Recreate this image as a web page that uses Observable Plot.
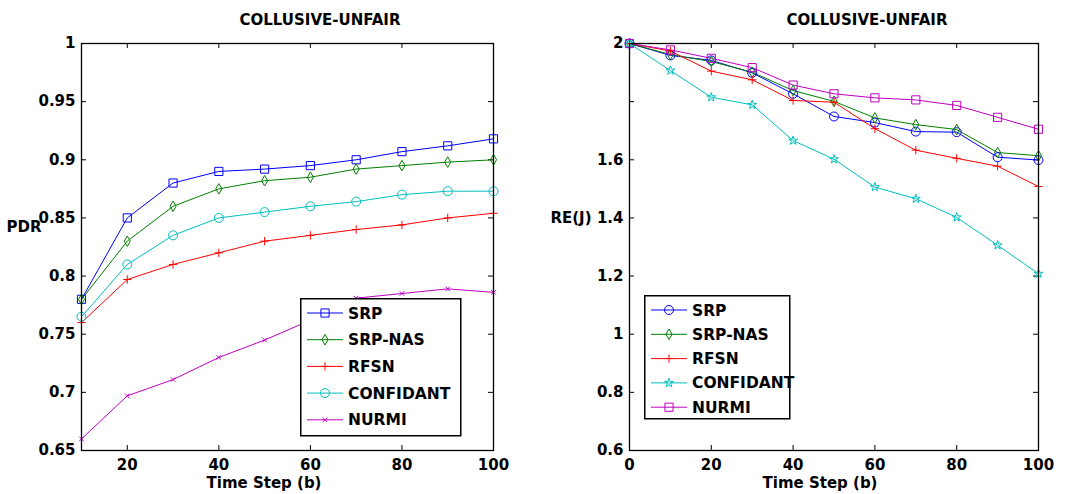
<!DOCTYPE html>
<html><head><meta charset="utf-8">
<script src="https://cdn.jsdelivr.net/npm/d3@7"></script>
<script src="https://cdn.jsdelivr.net/npm/@observablehq/plot@0.6"></script>
<style>
body{margin:0;background:#fff;}
#wrap{position:relative;width:1065px;height:494px;overflow:hidden;background:#fff;font-family:"DejaVu Sans",sans-serif;font-weight:bold;color:#000}
.panel{position:absolute;top:0}
.lbl{position:absolute;white-space:nowrap;font-size:15px;line-height:1;}
.ctr{transform:translate(-50%,-50%)}
.legend{position:absolute;overflow:visible}
</style></head><body><div id="wrap"></div>
<script>
// ---------- data ----------
const seriesNames = ["SRP", "SRP-NAS", "RFSN", "CONFIDANT", "NURMI"];
const seriesColors = ["#0000ff", "#008000", "#ff0000", "#00bfbf", "#bf00bf"];

// Left panel: PDR vs time step
const pdrSteps = [10, 20, 30, 40, 50, 60, 70, 80, 90, 100];
const pdrSRP       = [0.780, 0.850, 0.880, 0.890, 0.892, 0.895, 0.900, 0.907, 0.912, 0.918];
const pdrSRPNAS    = [0.780, 0.830, 0.860, 0.875, 0.882, 0.885, 0.892, 0.895, 0.898, 0.900];
const pdrRFSN      = [0.760, 0.797, 0.810, 0.820, 0.830, 0.835, 0.840, 0.844, 0.850, 0.854];
const pdrCONFIDANT = [0.765, 0.810, 0.835, 0.850, 0.855, 0.860, 0.864, 0.870, 0.873, 0.873];
const pdrNURMI     = [0.660, 0.697, 0.711, 0.730, 0.745, 0.762, 0.781, 0.785, 0.789, 0.786];
const pdrXTicks = [20, 40, 60, 80, 100];
const pdrYTicks = [0.65, 0.7, 0.75, 0.8, 0.85, 0.9, 0.95, 1];

// Right panel: RE(J) vs time step
const reSteps = [0, 10, 20, 30, 40, 50, 60, 70, 80, 90, 100];
const reSRP       = [2.000, 1.959, 1.942, 1.899, 1.827, 1.749, 1.728, 1.697, 1.695, 1.609, 1.599];
const reSRPNAS    = [2.000, 1.962, 1.938, 1.901, 1.838, 1.801, 1.744, 1.721, 1.704, 1.625, 1.614];
const reRFSN      = [2.000, 1.974, 1.905, 1.875, 1.804, 1.798, 1.707, 1.633, 1.605, 1.578, 1.508];
const reCONFIDANT = [2.000, 1.907, 1.815, 1.789, 1.666, 1.602, 1.506, 1.466, 1.402, 1.306, 1.208];
const reNURMI     = [2.000, 1.978, 1.949, 1.917, 1.857, 1.827, 1.813, 1.806, 1.787, 1.746, 1.705];
const reXTicks = [0, 20, 40, 60, 80, 100];
const reYTicks = [0.6, 0.8, 1, 1.2, 1.4, 1.6, 1.8, 2];
const reYTickLabels = ["0.6", "0.8", "1", "1.2", "1.4", "1.6", "", "2"];

const titleText = "COLLUSIVE-UNFAIR";
const xLabelText = "Time Step (b)";
const pdrLabelText = "PDR";
const reLabelText = "RE(J)";

const pdrSymbols = ["square", "diamond", "plus", "circle", "times"];
const pdrSizes = [4.6, 3.2, 2.8, 4.5, 2.2];
const reSymbols = ["circle", "diamond", "plus", "star", "square"];
const reSizes = [4.5, 3.2, 2.8, 2.8, 4.6];

// ---------- build ----------
function toRows(steps, arrays) {
  const rows = [];
  arrays.forEach((vals, i) => vals.forEach((v, j) => rows.push({series: seriesNames[i], step: steps[j], value: v})));
  return rows;
}
const pdrRows = toRows(pdrSteps, [pdrSRP, pdrSRPNAS, pdrRFSN, pdrCONFIDANT, pdrNURMI]);
const reRows = toRows(reSteps, [reSRP, reSRPNAS, reRFSN, reCONFIDANT, reNURMI]);

const font = {fontFamily: "DejaVu Sans", fontWeight: "bold", fontSize: "15px", background: "white", color: "black", overflow: "visible"};
const TICK = 5;
const HEIGHT = 494, MT = 43, MB = 44;

function panel({width, marginLeft, marginRight, xDomain, yDomain, xTicks, yTicks, yFmt, rows, symbols, sizes}) {
  const pw = width - marginLeft - marginRight;
  const ph = HEIGHT - MT - MB;
  const marks = [
    // inward tick marks on all four sides (MATLAB style)
    Plot.tickX(xTicks, {x: d => d, insetTop: ph - TICK, stroke: "black"}),
    Plot.tickX(xTicks, {x: d => d, insetBottom: ph - TICK, stroke: "black"}),
    Plot.tickY(yTicks, {y: d => d, insetRight: pw - TICK, stroke: "black"}),
    Plot.tickY(yTicks, {y: d => d, insetLeft: pw - TICK, stroke: "black"}),
    Plot.axisX({anchor: "bottom", ticks: xTicks, tickSize: 0, tickPadding: 9, label: null}),
    Plot.axisY({anchor: "left", ticks: yTicks, tickSize: 0, tickPadding: 6, tickFormat: yFmt, label: null}),
    Plot.line(rows, {x: "step", y: "value", z: "series", stroke: "series", strokeWidth: 1})
  ];
  seriesNames.forEach((s, i) => {
    marks.push(Plot.dot(rows.filter(d => d.series === s), {x: "step", y: "value", stroke: seriesColors[i], fill: "none", symbol: symbols[i], r: sizes[i], strokeWidth: 1}));
  });
  marks.push(Plot.frame({stroke: "black", strokeWidth: 1.3}));
  return Plot.plot({
    width, height: HEIGHT, marginLeft, marginRight, marginTop: MT, marginBottom: MB,
    style: font,
    x: {domain: xDomain},
    y: {domain: yDomain},
    color: {domain: seriesNames, range: seriesColors},
    marks
  });
}

const wrap = document.getElementById("wrap");

const left = panel({
  width: 530, marginLeft: 81, marginRight: 37,
  xDomain: [10, 100], yDomain: [0.65, 1], xTicks: pdrXTicks, yTicks: pdrYTicks,
  yFmt: d => String(+d.toFixed(2)), rows: pdrRows, symbols: pdrSymbols, sizes: pdrSizes
});
left.classList.add("panel"); left.style.left = "0px";
wrap.appendChild(left);

const right = panel({
  width: 535, marginLeft: 99, marginRight: 27,
  xDomain: [0, 100], yDomain: [0.6, 2], xTicks: reXTicks, yTicks: reYTicks,
  yFmt: d => reYTickLabels[reYTicks.findIndex(t => Math.abs(t - d) < 1e-9)], rows: reRows, symbols: reSymbols, sizes: reSizes
});
right.classList.add("panel"); right.style.left = "530px";
wrap.appendChild(right);

function addLabel(text, x, y, cls, extra) {
  const el = document.createElement("div");
  el.className = "lbl " + (cls || "");
  el.textContent = text;
  el.style.left = x + "px"; el.style.top = y + "px";
  if (extra) Object.assign(el.style, extra);
  wrap.appendChild(el);
  return el;
}
addLabel(titleText, 320, 20, "ctr");
addLabel(titleText, 867, 20, "ctr");
addLabel(xLabelText, 264, 483, "ctr");
addLabel(xLabelText, 820, 483, "ctr");
addLabel(pdrLabelText, 24, 227, "ctr");
addLabel(reLabelText, 571, 218, "ctr");

function legend(x, y, w, h, rowTop, rowGap, symbols, sizes) {
  const svg = d3.create("svg").attr("class", "legend").attr("width", w + 20).attr("height", h + 2)
    .style("left", x + "px").style("top", y + "px");
  svg.append("rect").attr("x", 0.75).attr("y", 0.75).attr("width", w).attr("height", h)
    .attr("fill", "white").attr("stroke", "black").attr("stroke-width", 1.5);
  const symMap = {square: d3.symbolSquare, diamond: d3.symbolDiamond, plus: d3.symbolPlus, circle: d3.symbolCircle, times: d3.symbolTimes, star: d3.symbolStar};
  seriesNames.forEach((s, i) => {
    const cy = rowTop + i * rowGap;
    const g = svg.append("g");
    g.append("line").attr("x1", 7).attr("x2", 43).attr("y1", cy).attr("y2", cy).attr("stroke", seriesColors[i]).attr("stroke-width", 1);
    g.append("path").attr("transform", `translate(25,${cy})`)
      .attr("d", d3.symbol(symMap[symbols[i]], Math.PI * sizes[i] * sizes[i])())
      .attr("fill", "none").attr("stroke", seriesColors[i]).attr("stroke-width", 1);
    g.append("text").attr("x", 48).attr("y", cy).attr("dy", "0.36em")
      .attr("font-family", "DejaVu Sans").attr("font-weight", "bold").attr("font-size", 15.5).text(s);
  });
  wrap.appendChild(svg.node());
}
legend(300, 298, 160, 137, 15, 26.7, pdrSymbols, pdrSizes);
legend(644, 295, 145, 123, 15, 24.3, reSymbols, reSizes);
</script></body></html>
